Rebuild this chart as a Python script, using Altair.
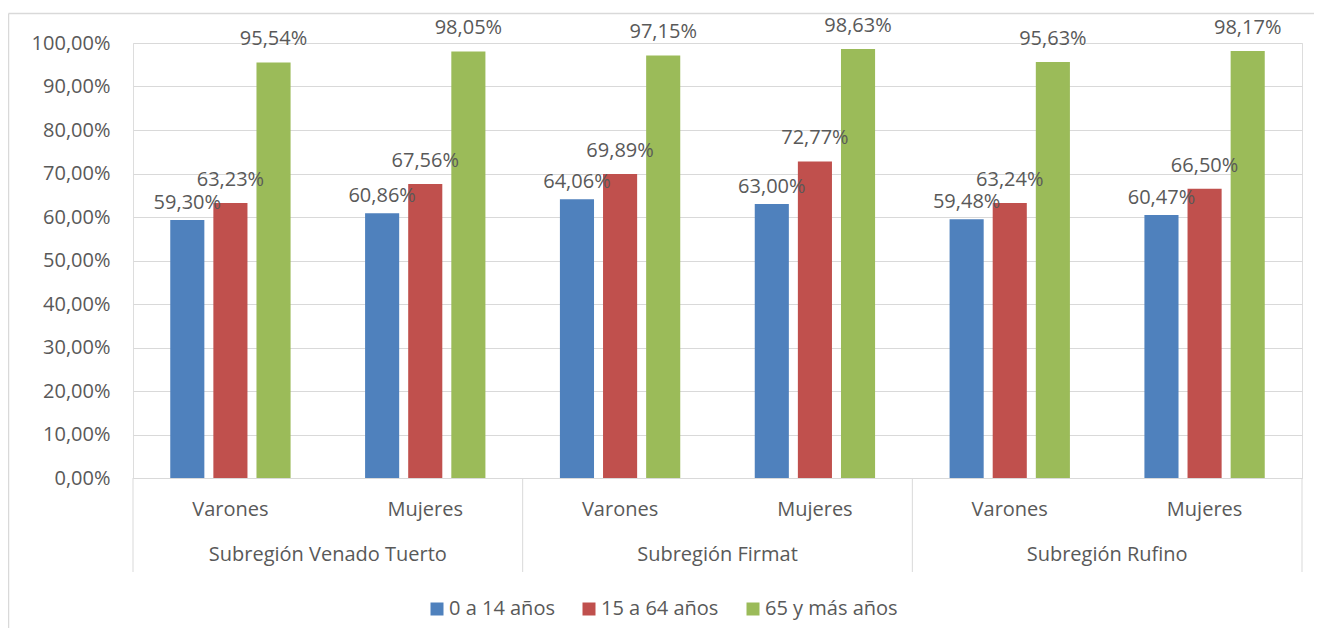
import altair as alt
import pandas as pd

regiones = ["Subregión Venado Tuerto", "Subregión Firmat", "Subregión Rufino"]
sexos = ["Varones", "Mujeres"]
series = ["0 a 14 años", "15 a 64 años", "65 y más años"]
colores = ["#4F81BD", "#C0504D", "#9BBB59"]

# values (%) per region/sex in order of series
v_0_14 = [59.30, 60.86, 64.06, 63.00, 59.48, 60.47]
v_15_64 = [63.23, 67.56, 69.89, 72.77, 63.24, 66.50]
v_65 = [95.54, 98.05, 97.15, 98.63, 95.63, 98.17]

cats = [f"{r}|{s}" for r in regiones for s in sexos]
rows = []
for i, c in enumerate(cats):
    for s, vals in zip(series, [v_0_14, v_15_64, v_65]):
        rows.append({"cat": c, "serie": s, "v": vals[i] / 100.0})
df = pd.DataFrame(rows)

cat_df = pd.DataFrame({"cat": cats, "sexo": [c.split("|")[1] for c in cats]})
reg_df = pd.DataFrame({"cat": [f"{r}|Mujeres" for r in regiones], "reg": regiones})
sep_df = pd.DataFrame({"cat": [f"{r}|Varones" for r in regiones]})
sep_end_df = pd.DataFrame({"cat": [cats[-1]]})

FONT = "Open Sans"
TXT = "#595959"
GRID = "#D9D9D9"

xscale = alt.Scale(domain=cats, paddingInner=0, paddingOuter=0)
oscale = alt.Scale(domain=series, paddingInner=0.209, paddingOuter=0.864)
W, H = 1169, 435

bars = alt.Chart(df).mark_bar().encode(
    x=alt.X("cat:N", scale=xscale, axis=alt.Axis(labels=False, ticks=False, title=None,
                                                 domainColor=GRID, domainWidth=1)),
    xOffset=alt.XOffset("serie:N", scale=oscale),
    y=alt.Y("v:Q", scale=alt.Scale(domain=[0, 1]),
            axis=alt.Axis(values=[i / 10 for i in range(11)], title=None, domain=False, ticks=False,
                          gridColor=GRID, labelPadding=23, labelFontSize=20, labelFont=FONT,
                          labelColor=TXT,
                          labelExpr="replace(format(datum.value, '.2%'), '.', ',')")),
    color=alt.Color("serie:N", scale=alt.Scale(domain=series, range=colores),
                    legend=alt.Legend(orient="none", legendX=294, legendY=556, direction="horizontal",
                                      title=None, symbolType="square", symbolSize=169,
                                      symbolStrokeWidth=0, labelFont=FONT, labelFontSize=20,
                                      labelColor=TXT, labelOffset=2, columnPadding=24)),
)


def label_layer(serie_filter, dy):
    return alt.Chart(df).transform_filter(serie_filter).transform_calculate(
        lab="replace(format(datum.v, '.2%'), '.', ',')"
    ).mark_text(dy=dy, baseline="alphabetic", font=FONT, fontSize=20, color=TXT).encode(
        x=alt.X("cat:N", scale=xscale),
        xOffset=alt.XOffset("serie:N", scale=oscale),
        y="v:Q",
        text="lab:N",
    )


labels_blue = label_layer(alt.datum.serie == series[0], -11)
labels_rest = label_layer(alt.datum.serie != series[0], -17)

sex_labels = alt.Chart(cat_df).mark_text(baseline="middle", font=FONT, fontSize=20, color=TXT).encode(
    x=alt.X("cat:N", scale=xscale),
    y=alt.value(H + 32),
    text="sexo:N",
)

reg_labels = alt.Chart(reg_df).mark_text(baseline="middle", font=FONT, fontSize=20, color=TXT).encode(
    x=alt.X("cat:N", scale=xscale, bandPosition=0),
    y=alt.value(H + 77),
    text="reg:N",
)

seps = alt.Chart(sep_df).mark_rule(color=GRID, strokeWidth=1).encode(
    x=alt.X("cat:N", scale=xscale, bandPosition=0),
    y=alt.value(H),
    y2=alt.value(H + 94),
)
sep_end = alt.Chart(sep_end_df).mark_rule(color=GRID, strokeWidth=1).encode(
    x=alt.X("cat:N", scale=xscale, bandPosition=1),
    y=alt.value(H),
    y2=alt.value(H + 94),
)

border_df = pd.DataFrame({"k": [0]})
border_left = alt.Chart(border_df).mark_rule(color=GRID, strokeWidth=1.5).encode(
    x=alt.value(-124.5), y=alt.value(-29.5), y2=alt.value(700)
)
border_top = alt.Chart(border_df).mark_rule(color=GRID, strokeWidth=1.5).encode(
    x=alt.value(-124.5), x2=alt.value(1400), y=alt.value(-29.5)
)

chart = alt.layer(
    border_left, border_top, seps, sep_end, bars, labels_blue, labels_rest, sex_labels, reg_labels
).properties(
    width=W, height=H,
    padding={"left": 125, "top": 35, "right": 12, "bottom": 150},
    autosize=alt.AutoSizeParams(type="none"),
).configure_view(stroke=None).configure(background="white")

chart.save("out.html", embed_options={"renderer": "svg", "actions": False})
